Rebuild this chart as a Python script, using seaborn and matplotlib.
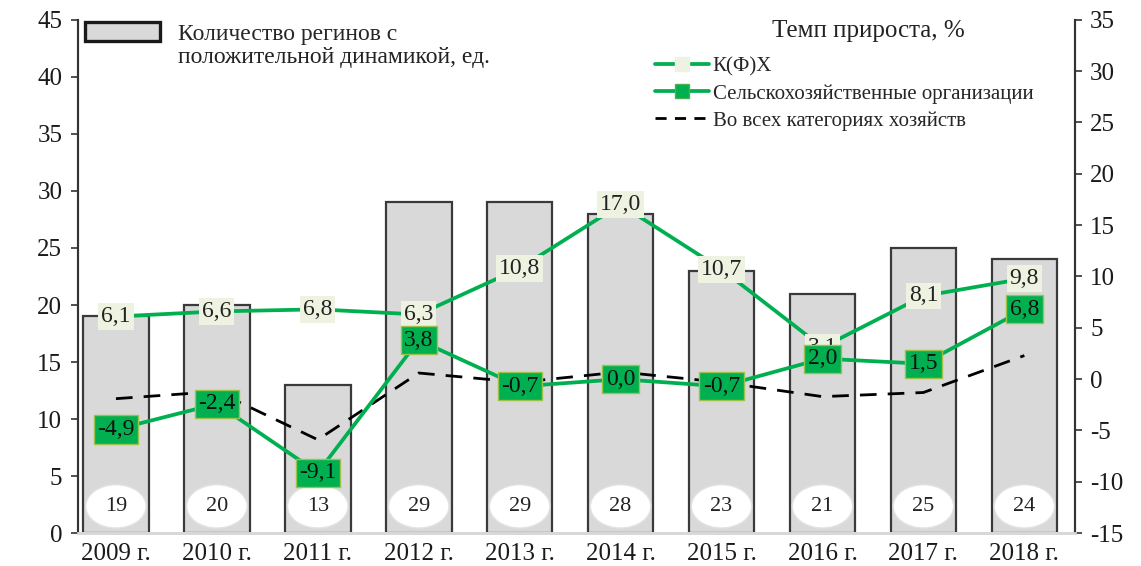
import numpy as np
import pandas as pd
import matplotlib
matplotlib.use("Agg")
import matplotlib.pyplot as plt
import seaborn as sns
from matplotlib.patches import Patch, Ellipse
from matplotlib.lines import Line2D

# Data
years = ["2009 г.", "2010 г.", "2011 г.", "2012 г.", "2013 г.",
         "2014 г.", "2015 г.", "2016 г.", "2017 г.", "2018 г."]
regions = [19, 20, 13, 29, 29, 28, 23, 21, 25, 24]
kfh = [6.1, 6.6, 6.8, 6.3, 10.8, 17.0, 10.7, 3.1, 8.1, 9.8]
agri_orgs = [-4.9, -2.4, -9.1, 3.8, -0.7, 0.0, -0.7, 2.0, 1.5, 6.8]
all_farms = [-1.9, -1.2, -5.9, 0.6, -0.3, 0.7, -0.3, -1.7, -1.3, 2.3]

GREEN = "#00b050"
LIGHT = "#eef2e0"
BAR_FILL = "#d9d9d9"

sns.set_style("white")
plt.rcParams["font.family"] = ["Liberation Serif", "DejaVu Serif"]
plt.rcParams["axes.unicode_minus"] = False

df = pd.DataFrame({"year": years, "regions": regions, "kfh": kfh,
                   "agri": agri_orgs, "all": all_farms})
df["pos"] = np.arange(len(df))

fig = plt.figure(figsize=(11.41, 5.66), dpi=100)
ax = fig.add_axes([0.068, 0.058, 0.874, 0.907])

sns.barplot(data=df, x="year", y="regions", color=BAR_FILL, width=0.65,
            edgecolor="#3a3a3a", linewidth=1.6, saturation=1, ax=ax)
ax.set_xlim(-0.38, 9.5)
ax.set_ylim(0, 45)
ax.set_yticks(np.arange(0, 46, 5))
ax.set_xlabel("")
ax.set_ylabel("")

# white ellipse labels with bar values
for i, v in enumerate(regions):
    ax.add_patch(Ellipse((i, 2.35), 0.6, 3.8, fc="white", ec="#e2e2e2",
                         lw=1, zorder=4))
    ax.text(i, 2.35, str(v), ha="center", va="center", fontsize=16,
            color="#222222", zorder=5)

ax2 = ax.twinx()
sns.lineplot(x=df["pos"], y=df["all"], ax=ax2, color="black",
             linestyle=(0, (6, 4)), linewidth=2)
sns.lineplot(x=df["pos"], y=df["agri"], ax=ax2, color=GREEN, linewidth=2.7)
sns.lineplot(x=df["pos"], y=df["kfh"], ax=ax2, color=GREEN, linewidth=2.7)
ax2.set_ylim(-15, 35)
ax2.set_yticks(np.arange(-15, 36, 5))
ax2.set_xlim(-0.38, 9.5)
ax2.set_xlabel("")
ax2.set_ylabel("")

for i, v in enumerate(kfh):
    ax2.text(i, v, f"{v:.1f}".replace(".", ","), ha="center", va="center",
             fontsize=17, color="#222222",
             bbox=dict(boxstyle="square,pad=0.12", fc=LIGHT, ec="none"),
             zorder=6)
for i, v in enumerate(agri_orgs):
    ax2.text(i, v, f"{v:.1f}".replace(".", ","), ha="center", va="center",
             fontsize=17, color="#111111",
             bbox=dict(boxstyle="square,pad=0.15", fc=GREEN, ec="#9cc24a", lw=1),
             zorder=6)

# spines and ticks
for a in (ax, ax2):
    a.spines["top"].set_visible(False)
    a.spines["bottom"].set_color("#d8d8d8")
    a.spines["bottom"].set_linewidth(2)
    a.spines["left"].set_color("#333333")
    a.spines["right"].set_color("#333333")
    a.spines["left"].set_linewidth(1.5)
    a.spines["right"].set_linewidth(1.5)
ax.tick_params(axis="y", direction="out", length=5, width=1.2, labelsize=18,
               color="#333333", labelcolor="#1a1a1a", pad=6)
ax.tick_params(axis="x", length=0, labelsize=18, labelcolor="#1a1a1a", pad=7)
ax2.tick_params(axis="y", direction="out", length=5, width=1.2, labelsize=18,
                color="#333333", labelcolor="#1a1a1a", pad=6)

# legend for the bars
bar_handle = Patch(fc=BAR_FILL, ec="#1a1a1a", lw=2.4)
ax.legend([bar_handle], ["Количество регинов с"],
          loc="upper left", bbox_to_anchor=(0.066, 0.977),
          bbox_transform=fig.transFigure, frameon=False, fontsize=17,
          handlelength=3.2, handleheight=0.8, handletextpad=0.75,
          borderaxespad=0)
fig.text(0.156, 0.899, "положительной динамикой, ед.", ha="left", va="center",
         fontsize=17, color="#222222")

# legend for the lines
fig.text(0.761, 0.945, "Темп прироста, %", ha="center", va="center",
         fontsize=18, color="#222222")
h_kfh = Line2D([], [], color=GREEN, lw=2.7, marker="s", markersize=10,
               markerfacecolor=LIGHT, markeredgecolor=LIGHT)
h_agri = Line2D([], [], color=GREEN, lw=2.7, marker="s", markersize=10,
                markerfacecolor=GREEN, markeredgecolor="#4caf50")
h_all = Line2D([], [], color="black", lw=2, linestyle=(0, (4, 3)))
ax2.legend([h_kfh, h_agri, h_all],
           ["К(Ф)Х", "Сельскохозяйственные организации",
            "Во всех категориях хозяйств"],
           loc="upper left", bbox_to_anchor=(0.567, 0.914),
           bbox_transform=fig.transFigure, frameon=False, fontsize=15,
           handlelength=2.6, handletextpad=0.15, labelspacing=0.36,
           borderaxespad=0)

fig.savefig("out.png", dpi=100)
